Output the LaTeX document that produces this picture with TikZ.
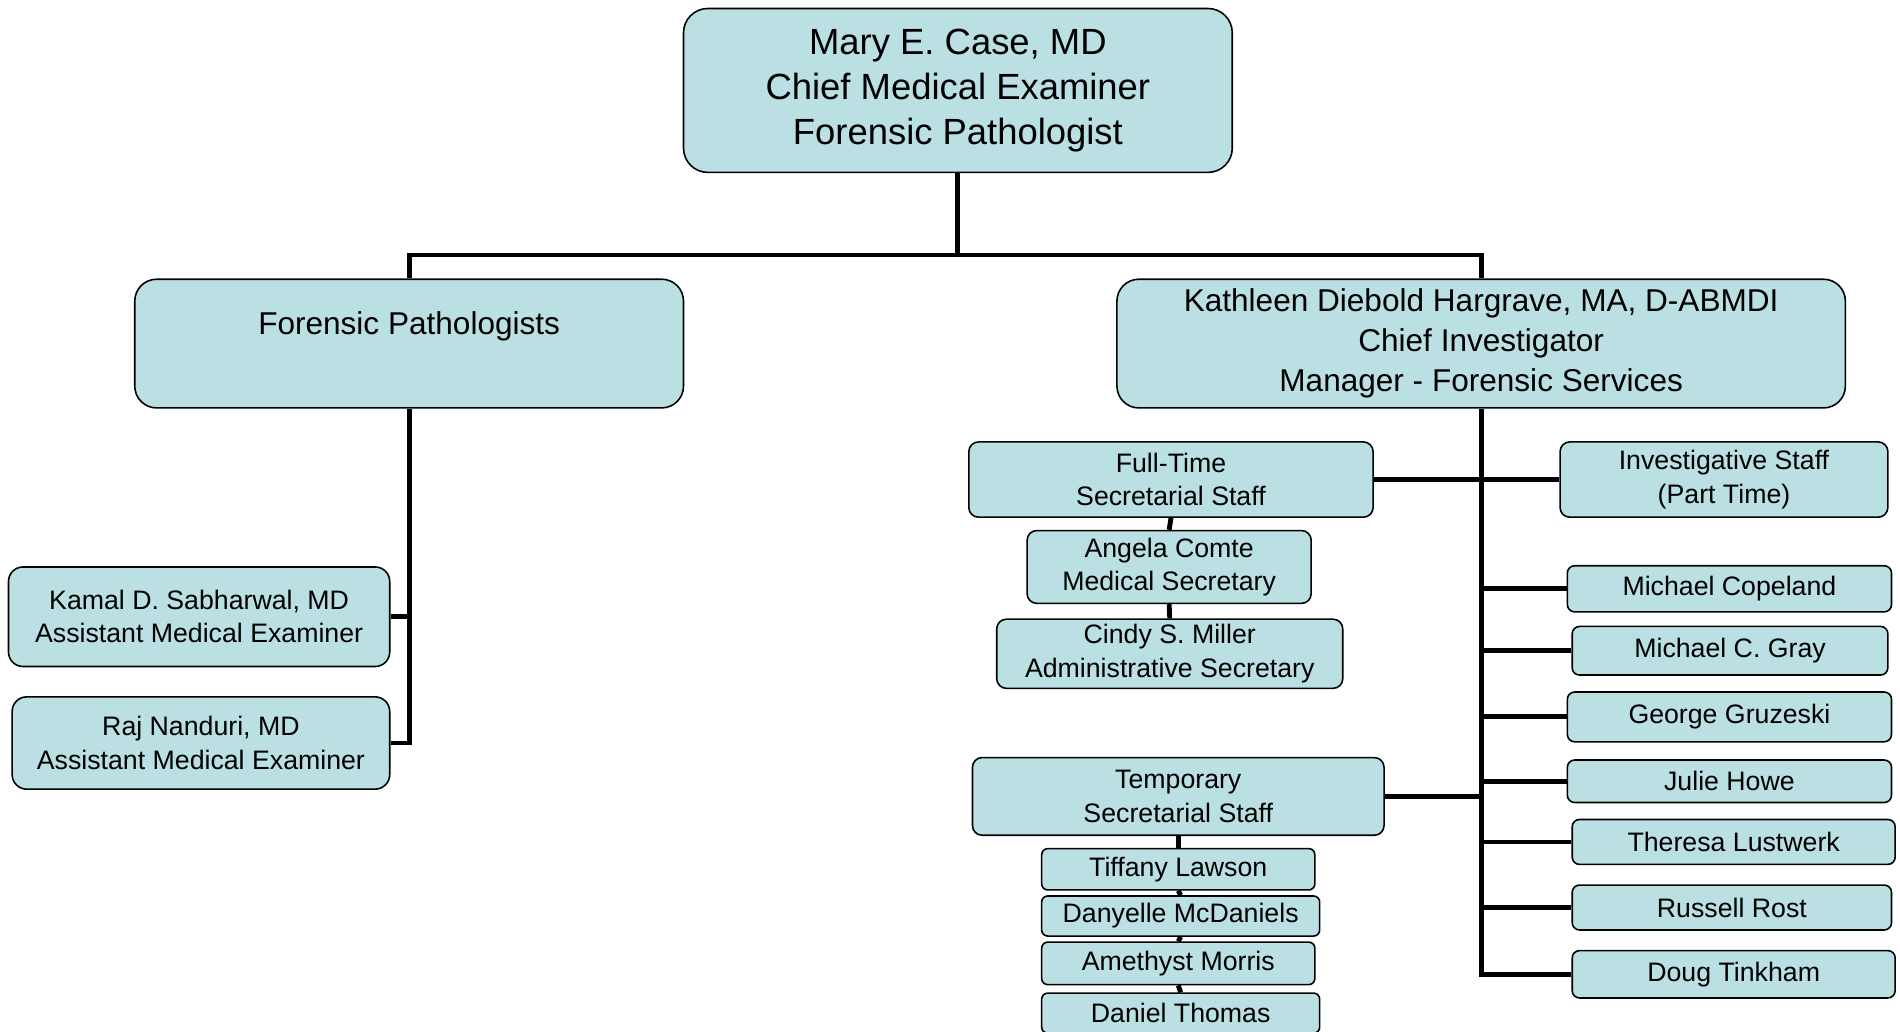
\documentclass[tikz,border=0pt]{standalone}
\usepackage{fontspec}
\setmainfont{Liberation Sans}
\definecolor{boxfill}{RGB}{187,224,227}

\begin{document}
\begin{tikzpicture}[x=1pt,y=-1pt,
                    person/.style={draw=black,line width=1.3pt,fill=boxfill,rounded corners=8pt,
                                   inner sep=0pt,align=center,font=\fontsize{22}{27.5}\selectfont},
                    chief/.style={person,rounded corners=18pt,font=\fontsize{26}{33}\selectfont},
                    conn/.style={line width=4pt}]
                        \useasboundingbox (0,0) rectangle (1565,850);
                        \node[chief,minimum width=452pt,minimum height=135pt,rounded corners=20pt,
                              font=\fontsize{30}{37}\selectfont] (case) at (789,74.5)
                              {Mary E. Case, MD\\Chief Medical Examiner\\Forensic Pathologist};
                        \node[chief,minimum width=452pt,minimum height=106pt] (pathologists) at (337,283)
                              {Forensic Pathologists\\ \mbox{}};
                        \node[chief,minimum width=600pt,minimum height=106pt] (hargrave) at (1220,283)
                              {Kathleen Diebold Hargrave, MA, D-ABMDI\\Chief Investigator\\Manager - Forensic Services};
                        \node[person,minimum width=314pt,minimum height=82pt,rounded corners=12pt] (sabharwal) at (164,508)
                              {Kamal D. Sabharwal, MD\\Assistant Medical Examiner};
                        \node[person,minimum width=311pt,minimum height=76pt,rounded corners=12pt] (nanduri) at (165.5,612)
                              {Raj Nanduri, MD\\Assistant Medical Examiner};
                        \node[person,minimum width=333pt,minimum height=62pt] (fulltime) at (964.5,395)
                              {Full-Time\\Secretarial Staff};
                        \node[person,minimum width=270pt,minimum height=62pt] (investigative) at (1420,395)
                              {Investigative Staff\\(Part Time)};
                        \node[person,minimum width=234pt,minimum height=60pt] (comte) at (963,467)
                              {Angela Comte\\Medical Secretary};
                        \node[person,minimum width=285pt,minimum height=57pt] (miller) at (963.5,538.5)
                              {Cindy S. Miller\\Administrative Secretary};
                        \node[person,minimum width=339pt,minimum height=64pt] (temporary) at (970.5,656)
                              {Temporary\\Secretarial Staff};
                        \node[person,minimum width=225pt,minimum height=34pt,rounded corners=5pt] (lawson) at (970.5,716) {Tiffany Lawson};
                        \node[person,minimum width=229pt,minimum height=33pt,rounded corners=5pt] (mcdaniels) at (972.5,754.5) {Danyelle McDaniels};
                        \node[person,minimum width=225pt,minimum height=35pt,rounded corners=5pt] (morris) at (970.5,793.5) {Amethyst Morris};
                        \node[person,minimum width=229pt,minimum height=33pt,rounded corners=5pt] (thomas) at (972.5,834.5) {Daniel Thomas};
                        \node[person,minimum width=267pt,minimum height=38pt,rounded corners=6pt] (copeland) at (1424.5,485) {Michael Copeland};
                        \node[person,minimum width=260pt,minimum height=40pt,rounded corners=6pt] (gray) at (1425,536) {Michael C. Gray};
                        \node[person,minimum width=267pt,minimum height=41pt,rounded corners=6pt] (gruzeski) at (1424.5,590.5) {George Gruzeski};
                        \node[person,minimum width=267pt,minimum height=35pt,rounded corners=6pt] (howe) at (1424.5,643.5) {Julie Howe};
                        \node[person,minimum width=266pt,minimum height=37pt,rounded corners=6pt] (lustwerk) at (1428,693.5) {Theresa Lustwerk};
                        \node[person,minimum width=263pt,minimum height=37pt,rounded corners=6pt] (rost) at (1426.5,747.5) {Russell Rost};
                        \node[person,minimum width=266pt,minimum height=39pt,rounded corners=6pt] (tinkham) at (1428,802.5) {Doug Tinkham};
                        \coordinate (bus) at (789,210);
                        \draw[conn] (case.south) -- (bus);
                        \draw[conn] (pathologists.north) |- (bus) -| (hargrave.north);
                        \draw[conn] (pathologists.south) |- (nanduri.east);
                        \draw[conn] (sabharwal.east) -- (sabharwal.east -| pathologists.south);
                        \draw[conn] (hargrave.south) |- (tinkham.west);
                        \foreach \n in {copeland,gray,gruzeski,howe,lustwerk,rost}
                            \draw[conn] (\n.west -| hargrave.south) -- (\n.west);
                        \draw[conn] (temporary.east) -- (temporary.east -| hargrave.south);
                        \draw[conn] (fulltime.east) -- (investigative.west);
                        \draw[conn] (fulltime.south) -- (comte.north);
                        \draw[conn] (comte.south) -- (miller.north);
                        \draw[conn] (temporary.south) -- (lawson.north);
                        \draw[conn] (lawson.south) -- (mcdaniels.north);
                        \draw[conn] (mcdaniels.south) -- (morris.north);
                        \draw[conn] (morris.south) -- (thomas.north);
                    \end{tikzpicture}
\end{document}
